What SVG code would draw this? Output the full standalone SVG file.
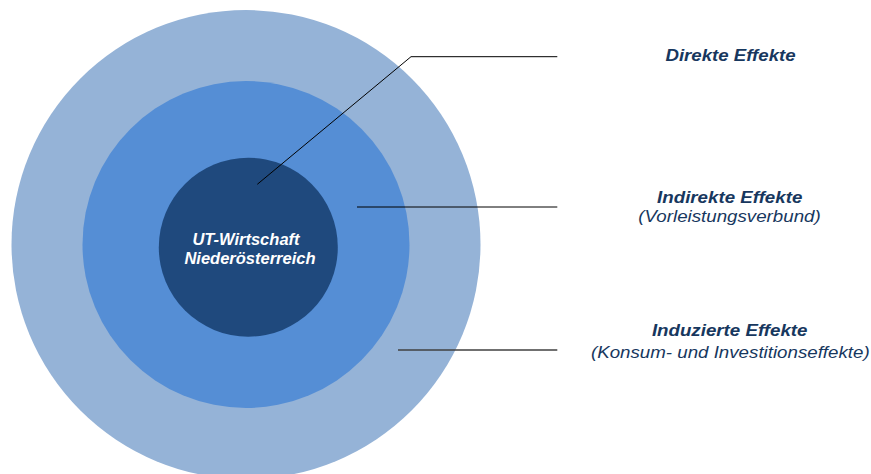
<svg xmlns="http://www.w3.org/2000/svg" width="871" height="474" viewBox="0 0 871 474">
<style>
.lbl{font-family:"Liberation Sans",Arial,sans-serif;font-style:italic;fill:#17375E;font-size:16px;text-anchor:middle}
.b{font-weight:bold}
.ctr{font-family:"Liberation Sans",Arial,sans-serif;font-style:italic;font-weight:bold;font-size:16.5px;fill:#FFFFFF;text-anchor:middle}
.con{stroke:#000;stroke-width:1;fill:none}
</style>
<rect width="871" height="474" fill="#FFFFFF"/>
<g id="outer"><circle cx="246" cy="244.5" r="234.5" fill="#95B3D7"/></g>
<g id="middle"><circle cx="246" cy="244.5" r="163.5" fill="#558ED5"/></g>
<g id="inner">
<circle cx="248.3" cy="247.2" r="89.5" fill="#1F497D"/>
<text class="ctr" x="246" y="245">UT-Wirtschaft</text>
<text class="ctr" x="250" y="263.5">Niederösterreich</text>
</g>
<g id="connectors">
<polyline class="con" points="257.3,184.3 411,56.7 557.3,56.7"/>
<line class="con" x1="357" y1="207" x2="557.3" y2="207"/>
<line class="con" x1="398" y1="350" x2="557.3" y2="350" style="stroke:#404040;stroke-width:1.4"/>
</g>
<g id="label-direkt">
<text class="lbl b" transform="translate(730.5,60.7) scale(1.165,1)">Direkte Effekte</text>
</g>
<g id="label-indirekt">
<text class="lbl b" transform="translate(729.7,203.4) scale(1.17,1)">Indirekte Effekte</text>
<text class="lbl" transform="translate(729.5,222.3) scale(1.17,1)">(Vorleistungsverbund)</text>
</g>
<g id="label-induziert">
<text class="lbl b" transform="translate(729.7,335.7) scale(1.17,1)">Induzierte Effekte</text>
<text class="lbl" transform="translate(730.3,357.7) scale(1.17,1)">(Konsum- und Investitionseffekte)</text>
</g>
</svg>
